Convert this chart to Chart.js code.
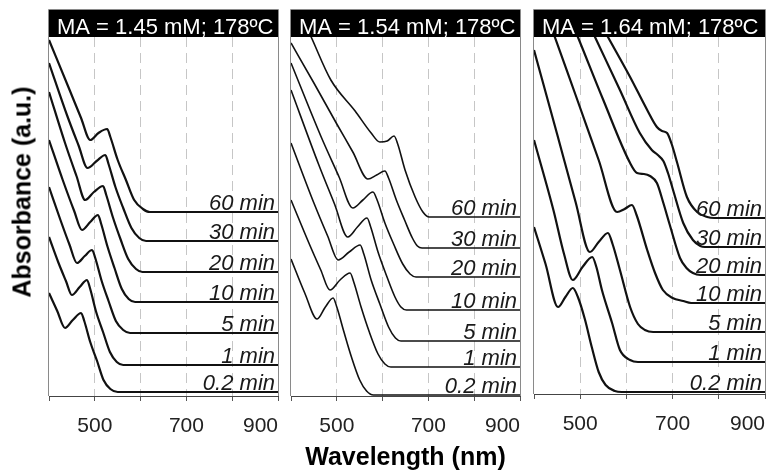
<!DOCTYPE html>
<html>
<head>
<meta charset="utf-8">
<script src="https://cdn.jsdelivr.net/npm/chart.js@4.4.1/dist/chart.umd.min.js"></script>
<style>
  html, body { margin: 0; padding: 0; background: #fff; }
  #wrap { position: relative; width: 773px; height: 473px; overflow: hidden; background: #fff; }
  #wrap canvas { position: absolute; top: 0; }
  #ytitle {
    position: absolute; left: 22px; top: 192px;
    transform: translate(-50%, -50%) rotate(-90deg);
    font: bold 25px "Liberation Sans", Arial, sans-serif;
    white-space: nowrap; color: #000;
  }
</style>
</head>
<body>
<div id="wrap">
  <canvas id="c145" width="285" height="473" style="left:0px"></canvas>
  <canvas id="c154" width="243" height="473" style="left:285px"></canvas>
  <canvas id="c164" width="245" height="473" style="left:528px"></canvas>
  <div id="ytitle">Absorbance (a.u.)</div>
</div>
<script>
const FONT = '"Liberation Sans", Arial, sans-serif';

// x axis: wavelength ticks (nm) and the labels printed under them
const TICK_VALUES = [400, 500, 600, 700, 800, 900];
const TICK_LABELS = ['', '500', '', '700', '', '900'];

// reaction times, bottom trace first
const TIMES = ['0.2 min', '1 min', '5 min', '10 min', '20 min', '30 min', '60 min'];

const TITLES = ['MA = 1.45 mM; 178ºC', 'MA = 1.54 mM; 178ºC', 'MA = 1.64 mM; 178ºC'];

// vertical stacking offset of each trace (a.u.)
const OFFSETS_145 = [0.04, 0.31, 0.63, 0.94, 1.24, 1.55, 1.84];
const OFFSETS_154 = [0.01, 0.29, 0.55, 0.86, 1.19, 1.48, 1.79];
const OFFSETS_164 = [0.02, 0.32, 0.62, 0.91, 1.19, 1.47, 1.76];

// spectra as [wavelength nm, absorbance a.u.] for MA = 1.45 mM
const SPECTRA_145 = [
  [[400,0.99],[418,0.81],[435,0.64],[452,0.72],[470,0.79],[477,0.71],[490,0.50],[505,0.31],[519,0.12],[534,0.03],[550,0],[900,0]],
  [[400,1.28],[420,1.03],[437,0.84],[450,0.70],[467,0.78],[483,0.85],[490,0.76],[503,0.53],[518,0.33],[533,0.13],[548,0.03],[562,0],[900,0]],
  [[400,1.46],[425,1.13],[445,0.88],[461,0.70],[478,0.77],[494,0.83],[501,0.75],[515,0.52],[530,0.32],[546,0.12],[562,0.03],[577,0],[900,0]],
  [[400,1.62],[430,1.22],[455,0.91],[472,0.72],[490,0.80],[507,0.87],[514,0.78],[528,0.55],[543,0.34],[559,0.13],[574,0.03],[588,0],[900,0]],
  [[400,1.80],[435,1.29],[460,0.96],[479,0.72],[498,0.80],[518,0.86],[525,0.77],[540,0.54],[556,0.33],[573,0.13],[590,0.03],[604,0],[900,0]],
  [[400,1.78],[440,1.25],[465,0.95],[484,0.73],[504,0.80],[523,0.86],[530,0.77],[545,0.54],[562,0.33],[580,0.13],[597,0.03],[612,0],[900,0]],
  [[400,1.72],[445,1.22],[470,0.94],[490,0.72],[508,0.79],[527,0.83],[534,0.75],[550,0.52],[568,0.32],[586,0.12],[605,0.03],[620,0],[900,0]]
];

// spectra for MA = 1.54 mM
const SPECTRA_154 = [
  [[400,1.36],[430,1.02],[457,0.76],[475,0.88],[492,0.97],[500,0.88],[515,0.64],[532,0.38],[550,0.15],[565,0.04],[580,0],[900,0]],
  [[400,1.67],[440,1.23],[465,0.97],[485,0.77],[507,0.87],[529,0.94],[537,0.85],[553,0.60],[571,0.35],[590,0.13],[605,0.03],[618,0],[900,0]],
  [[400,1.98],[450,1.38],[480,1.05],[503,0.81],[527,0.89],[551,0.96],[559,0.87],[575,0.61],[594,0.37],[613,0.14],[628,0.03],[640,0],[900,0]],
  [[400,2.20],[460,1.46],[495,1.06],[524,0.73],[545,0.83],[566,0.92],[574,0.83],[590,0.58],[608,0.35],[627,0.13],[640,0.03],[652,0],[900,0]],
  [[400,2.14],[465,1.41],[505,1.00],[535,0.69],[557,0.77],[579,0.85],[588,0.77],[605,0.54],[624,0.33],[644,0.13],[660,0.03],[673,0],[900,0]],
  [[400,2.05],[450,1.65],[500,1.24],[535,0.96],[568,0.69],[587,0.73],[605,0.77],[613,0.70],[630,0.48],[648,0.28],[665,0.10],[676,0.02],[686,0],[900,0]],
  [[400,2.24],[444,1.80],[487,1.37],[540,1.06],[575,0.84],[594,0.75],[610,0.76],[625,0.81],[633,0.73],[649,0.47],[671,0.20],[688,0.05],[702,0],[900,0]]
];

// spectra for MA = 1.64 mM
const SPECTRA_164 = [
  [[400,1.65],[425,1.28],[452,0.85],[468,0.95],[484,1.04],[495,0.95],[510,0.73],[525,0.45],[540,0.20],[555,0.07],[575,0.01],[590,0],[900,0]],
  [[400,2.22],[442,1.52],[465,1.08],[484,0.82],[505,0.95],[526,1.05],[535,0.95],[547,0.72],[569,0.39],[586,0.12],[608,0.02],[625,0],[900,0]],
  [[400,2.82],[450,1.98],[490,1.30],[521,0.80],[540,0.90],[560,0.99],[570,0.88],[586,0.62],[608,0.25],[625,0.08],[640,0.02],[658,0],[900,0]],
  [[400,3.25],[445,2.66],[490,2.08],[540,1.43],[580,0.91],[596,0.94],[612,0.98],[622,0.88],[645,0.53],[662,0.30],[679,0.13],[700,0.05],[723,0.02],[740,0],[900,0]],
  [[400,3.44],[495,2.38],[550,1.75],[608,1.12],[623,1.02],[638,1.01],[651,0.99],[666,0.92],[680,0.72],[694,0.50],[716,0.17],[730,0.07],[744,0.02],[760,0],[900,0]],
  [[400,3.40],[532,2.10],[586,1.57],[629,1.14],[655,0.97],[668,0.92],[680,0.86],[690,0.74],[701,0.57],[723,0.24],[744,0.07],[760,0.01],[770,0],[900,0]],
  [[400,3.14],[560,1.81],[608,1.41],[645,1.08],[666,0.91],[677,0.87],[688,0.85],[698,0.74],[710,0.55],[731,0.21],[753,0.06],[775,0.01],[790,0],[900,0]]
];

// frame, black title band and the time labels of every panel
const panelDecor = {
  id: 'panelDecor',
  afterDatasetsDraw(chart, args, opts) {
    const { ctx, chartArea: a, scales: { y } } = chart;
    ctx.save();
    // time labels resting on each flat baseline
    ctx.font = 'italic 22px ' + FONT;
    ctx.fillStyle = '#1a1a1a';
    ctx.textAlign = 'right';
    ctx.textBaseline = 'alphabetic';
    opts.offsets.forEach((off, i) => {
      ctx.fillText(TIMES[i], a.right - 3, y.getPixelForValue(off) - 2);
    });
    // title band
    ctx.fillStyle = '#000';
    ctx.fillRect(a.left, 10, a.right - a.left, a.top - 10);
    ctx.beginPath();
    ctx.rect(a.left, 10, a.right - a.left, a.top - 10);
    ctx.clip();
    ctx.fillStyle = '#fff';
    ctx.font = '22px ' + FONT;
    ctx.textAlign = 'left';
    ctx.fillText(opts.title, a.left + 8, 34);
    ctx.restore();
    // left, top and right frame lines
    ctx.save();
    ctx.strokeStyle = '#8a8a8a';
    ctx.lineWidth = 1;
    ctx.beginPath();
    ctx.moveTo(a.left - 0.5, a.bottom);
    ctx.lineTo(a.left - 0.5, 9.5);
    ctx.lineTo(a.right + 0.5, 9.5);
    ctx.lineTo(a.right + 0.5, a.bottom);
    ctx.stroke();
    ctx.restore();
  }
};

function makePanel(id, title, offsets, spectra, pad, axisHeight, lineWidth, showXTitle) {
  const datasets = spectra.map((curve, i) => ({
    label: TIMES[i],
    data: curve.map(([nm, a]) => ({ x: nm, y: offsets[i] + a })),
    borderColor: '#111',
    borderWidth: lineWidth,
    pointRadius: 0,
    fill: false,
    cubicInterpolationMode: 'monotone'
  }));
  const H = 473;
  return new Chart(document.getElementById(id), {
    type: 'line',
    data: { datasets },
    plugins: [panelDecor],
    options: {
      responsive: false,
      animation: false,
      devicePixelRatio: 1,
      layout: { autoPadding: false, padding: { top: 37, left: pad[0], right: pad[1], bottom: 0 } },
      plugins: {
        legend: { display: false },
        tooltip: { enabled: false },
        panelDecor: { title, offsets }
      },
      scales: {
        x: {
          type: 'linear',
          min: TICK_VALUES[0],
          max: TICK_VALUES[TICK_VALUES.length - 1],
          ticks: {
            stepSize: 100,
            autoSkip: false,
            maxRotation: 0,
            align: 'inner',
            padding: 13,
            color: '#222',
            font: { family: FONT, size: 21 },
            callback: (v) => TICK_LABELS[TICK_VALUES.indexOf(v)]
          },
          grid: {
            color: (c) => (c.tick && (c.tick.value === 400 || c.tick.value === 900)) ? 'rgba(0,0,0,0)' : '#c6c6c6',
            lineWidth: 1,
            drawTicks: true,
            tickLength: 5,
            tickColor: '#555',
            tickWidth: 1
          },
          border: { display: true, color: '#444', width: 1, dash: [10, 6] },
          title: {
            display: showXTitle,
            text: 'Wavelength (nm)',
            color: '#000',
            padding: 0,
            font: { family: FONT, size: 25, weight: 'bold' }
          },
          afterFit: (s) => {
            s.height = axisHeight;
            s.paddingLeft = 0;
            s.paddingRight = 0;
          }
        },
        y: {
          type: 'linear',
          display: false,
          min: 0,
          max: (H - axisHeight - 37) / 100
        }
      }
    }
  });
}

makePanel('c145', TITLES[0], OFFSETS_145, SPECTRA_145, [49, 7], 77, 2.2, false);
makePanel('c154', TITLES[1], OFFSETS_154, SPECTRA_154, [6, 8], 77, 1.6, true);
makePanel('c164', TITLES[2], OFFSETS_164, SPECTRA_164, [6, 8], 79, 2.2, false);
</script>
</body>
</html>
